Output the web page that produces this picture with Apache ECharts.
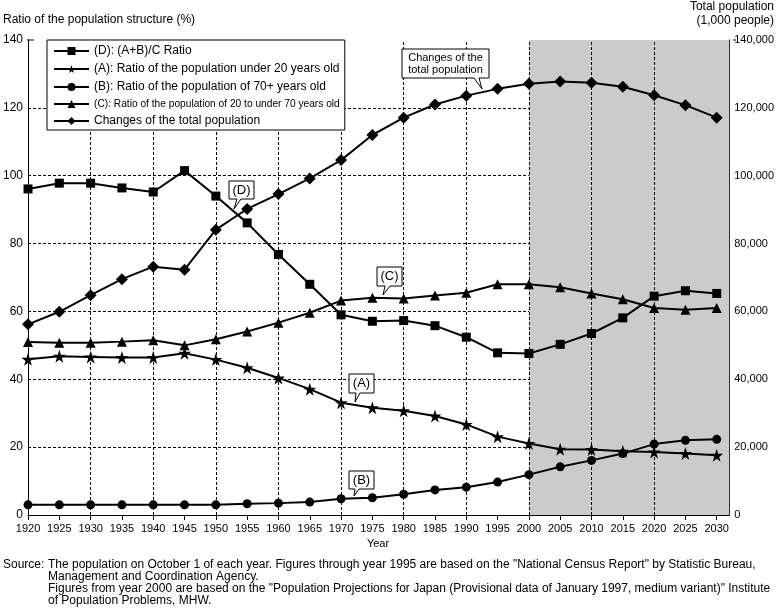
<!DOCTYPE html>
<html><head><meta charset="utf-8">
<script src="https://cdn.jsdelivr.net/npm/echarts@6/dist/echarts.min.js"></script>
<style>html,body{margin:0;padding:0;background:#fff}#c{width:777px;height:610px}</style>
</head><body><div id="c"></div>
<script>
var years = [1920,1925,1930,1935,1940,1945,1950,1955,1960,1965,1970,1975,1980,1985,1990,1995,2000,2005,2010,2015,2020,2025,2030];
var ratioD = [96.1,97.8,97.8,96.4,95.2,101.5,94.0,86.1,76.8,68.0,59.0,57.1,57.3,55.8,52.4,47.8,47.6,50.3,53.5,58.1,64.5,66.1,65.3];
var ratioA = [45.9,46.8,46.6,46.4,46.4,47.7,45.8,43.4,40.4,37.1,33.1,31.6,30.7,29.2,26.7,23.1,21.1,19.4,19.3,18.8,18.6,18.1,17.6];
var ratioB = [3.0,3.0,3.0,3.0,3.0,3.0,3.0,3.3,3.5,3.8,4.8,5.1,6.1,7.4,8.2,9.7,11.9,14.2,16.1,18.1,20.9,22.0,22.3];
var ratioC = [51.0,50.8,50.8,51.1,51.5,50.0,51.8,54.1,56.7,59.6,63.2,64.0,63.8,64.7,65.5,68.0,68.0,67.1,65.3,63.6,61.0,60.5,61.0];
var totalPop = [56200,59900,64800,69500,73200,72300,84100,90200,94600,99200,104600,112000,117100,121000,123600,125600,127100,127800,127400,126200,123700,120800,117100];
var leftTicks = {min:0,max:140,interval:20};
var rightTicks = {min:0,max:140000,interval:20000};
var projectionStart = 2000;
var names = ['(D): (A+B)/C Ratio','(A): Ratio of the population under 20 years old','(B): Ratio of the population of 70+ years old','(C): Ratio of the population of 20 to under 70 years old','Changes of the total population'];

function pairs(v){return years.map(function(y,i){return [y,v[i]];});}
var gridYears = years.filter(function(y){return y%10===0 && y>years[0] && y<years[years.length-1];});
var starPath = 'path://M50,0 L61,35 L98,35 L68,57 L79,91 L50,70 L21,91 L32,57 L2,35 L39,35 Z';
var FONT = 'Liberation Sans, Arial, sans-serif';
var dash = [3,2];

function mk(name, data, symbol, size, yIdx){
  return {name:name,type:'line',data:pairs(data),yAxisIndex:yIdx||0,symbol:symbol,symbolSize:size,
    lineStyle:{color:'#000',width:2},itemStyle:{color:'#000'},z:5,animation:false};
}
function callout(x0,y0,x1,y1,b1,b2,tx,ty,text,fs){
  return [{type:'polygon',shape:{points:[[x0,y0],[x1,y0],[x1,y1],[b2,y1],[tx,ty],[b1,y1],[x0,y1]]},
    style:{fill:'#fff',stroke:'#000',lineWidth:1},z:100},
   {type:'text',x:(x0+x1)/2,y:(y0+y1)/2,style:{text:text,fontSize:fs,fontFamily:FONT,fill:'#000',align:'center',verticalAlign:'middle',lineHeight:fs+1},z:101}];
}

var chart = echarts.init(document.getElementById('c'));
var graphics = [
  {type:'text',x:3,y:20,style:{text:'Ratio of the population structure (%)',fontSize:12,fontFamily:FONT,fill:'#000',verticalAlign:'middle'}},
  {type:'text',x:774,y:7,style:{text:'Total population',fontSize:12,fontFamily:FONT,fill:'#000',align:'right',verticalAlign:'middle'}},
  {type:'text',x:774,y:21,style:{text:'(1,000 people)',fontSize:12,fontFamily:FONT,fill:'#000',align:'right',verticalAlign:'middle'}},
  {type:'text',x:378,y:544,style:{text:'Year',fontSize:11,fontFamily:FONT,fill:'#000',align:'center',verticalAlign:'middle'}},
  {type:'text',x:3,y:565,style:{text:'Source:',fontSize:12,fontFamily:FONT,fill:'#000',verticalAlign:'middle'}},
  {type:'text',x:48,y:559,style:{text:'The population on October 1 of each year. Figures through year 1995 are based on the "National Census Report" by Statistic Bureau,\nManagement and Coordination Agency.\nFigures from year 2000 are based on the "Population Projections for Japan (Provisional data of January 1997, medium variant)" Institute\nof Population Problems, MHW.',fontSize:12,fontFamily:FONT,fill:'#000',verticalAlign:'top',lineHeight:11.8}},
  {type:'line',shape:{x1:27,y1:40,x2:34,y2:40},style:{stroke:'#000',lineWidth:1}},
  {type:'line',shape:{x1:733,y1:40,x2:736,y2:40},style:{stroke:'#000',lineWidth:1}}
];
graphics = graphics.concat(
  callout(229,181,254,199,237,241,234,209,'(D)',13),
  callout(377,267,402,286,385,390,383,295,'(C)',13),
  callout(349,374,374,393,356,360,355,402,'(A)',13),
  callout(349,471,374,489,355,359,354,496,'(B)',13),
  callout(402,49,489,78,474,479,482,89,'Changes of the\ntotal population',11)
);

var legendData = names.map(function(n,i){
  return i===3 ? {name:n,textStyle:{fontSize:10.2}} : {name:n};
});

chart.setOption({
  animation:false,
  backgroundColor:'#fff',
  textStyle:{fontFamily:FONT},
  grid:{left:27,right:44,top:40,bottom:95,containLabel:false},
  legend:{data:legendData,orient:'vertical',left:47,top:40,itemWidth:35,itemHeight:10,itemGap:6,
    padding:[5,5,3,6],backgroundColor:'#fff',borderColor:'#000',borderWidth:1,borderRadius:0,z:10,
    textStyle:{fontSize:12,color:'#000',fontFamily:FONT},selectedMode:false},
  xAxis:{type:'value',min:1920,max:2032,interval:5,
    axisLine:{lineStyle:{color:'#000',width:1}},
    axisTick:{show:true,inside:false,length:5,lineStyle:{color:'#000'}},
    axisLabel:{color:'#000',fontSize:11,margin:8,showMaxLabel:false,formatter:function(v){return String(v);}},
    splitLine:{show:false}},
  yAxis:[
    {type:'value',min:leftTicks.min,max:leftTicks.max,interval:leftTicks.interval,
     axisLine:{show:true,lineStyle:{color:'#000'}},axisTick:{show:false},
     axisLabel:{color:'#000',fontSize:12,margin:5},
     splitLine:{show:true,showMaxLine:false,showMinLine:false,lineStyle:{color:'#000',type:dash,width:1}}},
    {type:'value',min:rightTicks.min,max:rightTicks.max,interval:rightTicks.interval,position:'right',
     axisLine:{show:true,lineStyle:{color:'#000'}},axisTick:{show:false},
     axisLabel:{color:'#000',fontSize:11,margin:5,formatter:function(v){return v.toLocaleString('en-US');}},
     splitLine:{show:false}}
  ],
  series:[
    {name:'bg',type:'line',data:[],z:1,silent:true,
      markArea:{silent:true,itemStyle:{color:'#cbcbcb',opacity:1},data:[[{xAxis:projectionStart},{xAxis:2032}]]}},
    {name:'vgrid',type:'line',data:[],z:2,silent:true,
      markLine:{silent:true,symbol:['none','none'],label:{show:false},lineStyle:{color:'#000',type:dash,width:1},
        data:gridYears.map(function(y){return {xAxis:y};})}},
    mk(names[0],ratioD,'rect',9),
    mk(names[1],ratioA,starPath,13),
    mk(names[2],ratioB,'circle',9),
    mk(names[3],ratioC,'triangle',10),
    mk(names[4],totalPop,'diamond',12,1)
  ],
  graphic:graphics
});
</script></body></html>
